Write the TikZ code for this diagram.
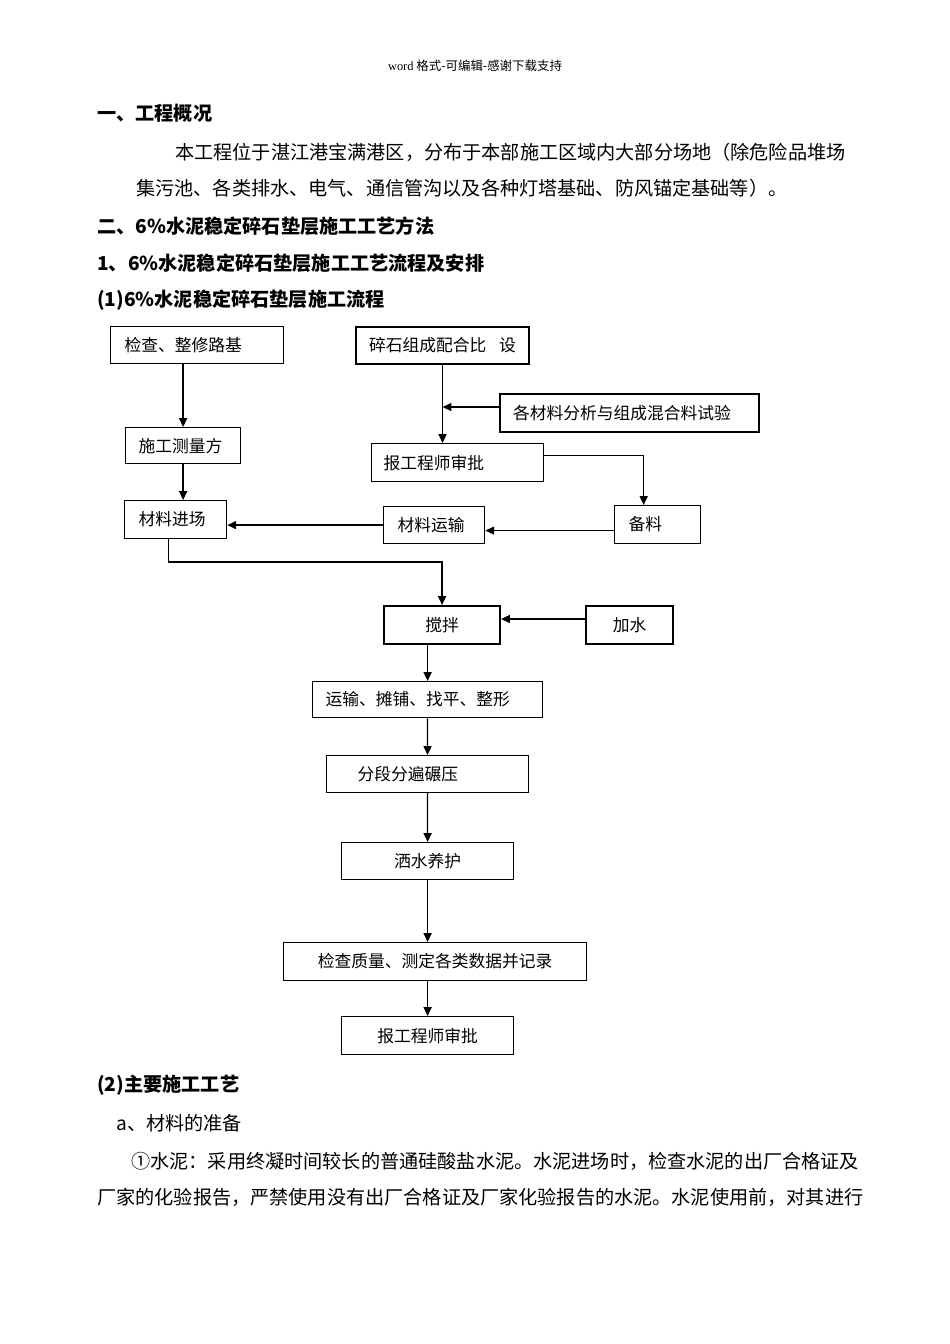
\documentclass[tikz,border=0pt]{standalone}
\usepackage{fontspec}
\usepackage{tikz}
\usetikzlibrary{arrows.meta,calc}
\newfontfamily\cjk{Noto Sans CJK SC}
\newfontfamily\latinserif{Liberation Serif}

\tikzset{
  flowbox/.style={draw, line width=0.75pt, anchor=north west, inner ysep=0pt, font=\cjk\fontsize{10.5}{12}\selectfont},
  heavybox/.style={flowbox, line width=1.3pt},
  lefttext/.style={align=left},
  flowarrow/.style={line width=0.8pt, -{Triangle[length=5.5pt,width=5pt]}},
  bodytext/.style={anchor=west, inner sep=0pt, font=\cjk\fontsize{12}{14}\selectfont},
  headtext/.style={bodytext, font=\cjk\bfseries\fontsize{12}{14}\selectfont}
}

\begin{document}
\begin{tikzpicture}[x=0.6266pt,y=0.6266pt,yscale=-1,xscale=1]
\path[use as bounding box, fill=white] (0,0) rectangle (950,1344);

% page header
\node[anchor=center, inner sep=0pt, font=\cjk\fontsize{7.8}{9}\selectfont] (pagehead) at (475,66) {{\latinserif word} 格式-可编辑-感谢下载支持};

% Text Node
\node[headtext] (secone) at (97,113) {一、工程概况};
\node[bodytext] (introa) at (175,152) {本工程位于湛江港宝满港区，分布于本部施工区域内大部分场地（除危险品堆场};
\node[bodytext] (introb) at (136,188) {集污池、各类排水、电气、通信管沟以及各种灯塔基础、防风锚定基础等）。};
\node[headtext] (sectwo) at (97,226) {二、6\%水泥稳定碎石垫层施工工艺方法};
\node[headtext] (subone) at (97,263) {1、6\%水泥稳定碎石垫层施工工艺流程及安排};
\node[headtext] (flowtitle) at (97,300) {(1)6\%水泥稳定碎石垫层施工流程};

% Flow boxes
\node[flowbox, lefttext, text width=90.9pt, inner xsep=8.8pt, minimum height=23.2pt] (chk) at (110,326) {检查、整修路基};
\node[heavybox, inner xsep=0pt, minimum width=108.4pt, minimum height=23.2pt] (mix) at (355,326) {碎石组成配合比\hspace{8pt}设};
\node[heavybox, lefttext, text width=146pt, inner xsep=8.15pt, minimum height=23.8pt] (test) at (499,393) {各材料分析与组成混合料试验};
\node[flowbox, lefttext, text width=55.8pt, inner xsep=8.15pt, minimum height=22.6pt] (survey) at (125,427) {施工测量方};
\node[flowbox, lefttext, text width=92.7pt, inner xsep=7.5pt, minimum height=23.8pt] (approvea) at (371,443) {报工程师审批};
\node[flowbox, lefttext, text width=46.4pt, inner xsep=8.8pt, minimum height=23.8pt] (enter) at (124,500) {材料进场};
\node[flowbox, lefttext, text width=45.8pt, inner xsep=8.8pt, minimum height=23.2pt] (haul) at (383,506) {材料运输};
\node[flowbox, lefttext, text width=36.4pt, inner xsep=8.8pt, minimum height=23.8pt] (prep) at (614,505) {备料};
\node[heavybox, inner xsep=0pt, minimum width=72.7pt, minimum height=23.8pt] (stir) at (383,605) {搅拌};
\node[heavybox, inner xsep=0pt, minimum width=54.5pt, minimum height=23.8pt] (water) at (585,605) {加水};
\node[flowbox, lefttext, text width=127.8pt, inner xsep=8.15pt, minimum height=22.6pt] (spread) at (312,681) {运输、摊铺、找平、整形};
\node[flowbox, lefttext, text width=87.7pt, inner xsep=19.4pt, minimum height=23.2pt] (roll) at (326,755) {分段分遍碾压};
\node[flowbox, inner xsep=0pt, minimum width=107.8pt, minimum height=23.2pt] (cure) at (341,842) {洒水养护};
\node[flowbox, inner xsep=0pt, minimum width=189.9pt, minimum height=23.8pt] (qc) at (283,942) {检查质量、测定各类数据并记录};
\node[flowbox, inner xsep=0pt, minimum width=107.8pt, minimum height=23.8pt] (approveb) at (341,1016) {报工程师审批};

% Connectors
\coordinate (testin) at ($(test.west)+(0,-6)$);
\coordinate (apout) at ($(approvea.east)+(0,-7)$);
\coordinate (prepin) at ($(prep.north)+(-14,0)$);
\coordinate (prepout) at ($(prep.west)+(0,6)$);
\coordinate (enterout) at ($(enter.south)+(-7,0)$);
\coordinate (waterout) at ($(water.west)+(0,-6)$);

\draw[flowarrow] (chk.south -| survey.north) -- (survey.north);
\draw[flowarrow] (survey.south) -- (survey.south |- enter.north);
\draw[flowarrow] (mix.south) -- (mix.south |- approvea.north);
\draw[flowarrow] (testin) -- (testin -| mix.south);
\draw[flowarrow] (apout) -| (prepin);
\draw[flowarrow] (prepout) -- (prepout -| haul.east);
\draw[flowarrow] (haul.west) -- (haul.west -| enter.east);
\draw[flowarrow] (enterout) |- ($(stir.north)+(0,-43)$) -- (stir.north);
\draw[flowarrow] (waterout) -- (waterout -| stir.east);
\draw[flowarrow] (stir.south -| spread.north) -- (spread.north);
\draw[flowarrow] (spread.south) -- (roll.north);
\draw[flowarrow] (roll.south) -- (cure.north);
\draw[flowarrow] (cure.south) -- (cure.south |- qc.north);
\draw[flowarrow] (approveb.north |- qc.south) -- (approveb.north);

% Text Node
\node[headtext] (subtwo) at (97,1085) {(2)主要施工工艺};
\node[bodytext] (prepa) at (116,1123) {a、材料的准备};
\node[bodytext] (cementa) at (131,1161) {①水泥：采用终凝时间较长的普通硅酸盐水泥。水泥进场时，检查水泥的出厂合格证及};
\node[bodytext] (cementb) at (97,1197) {厂家的化验报告，严禁使用没有出厂合格证及厂家化验报告的水泥。水泥使用前，对其进行};
\end{tikzpicture}
\end{document}
